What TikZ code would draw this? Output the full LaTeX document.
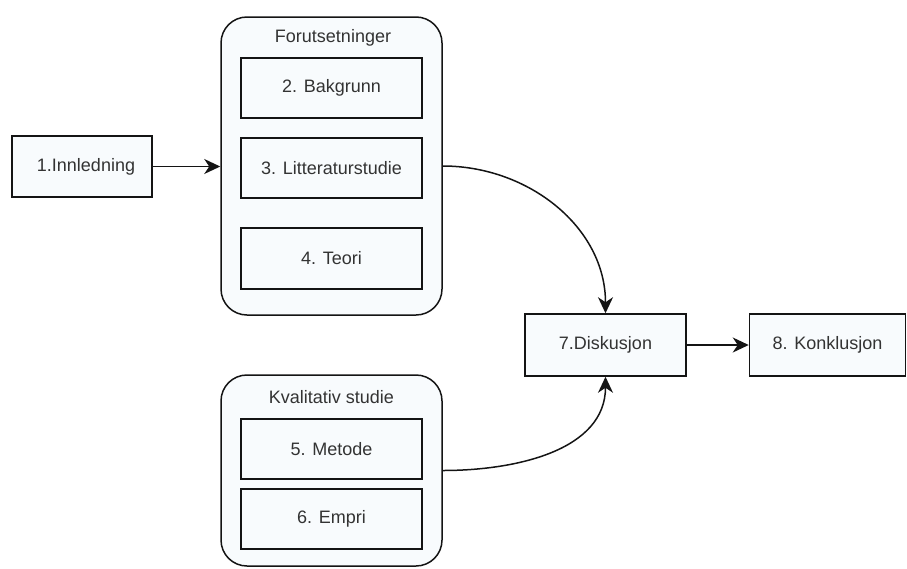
\documentclass[tikz,border=0pt]{standalone}
\usepackage{fontspec}
\setmainfont{Liberation Sans}
\usetikzlibrary{arrows.meta}
\definecolor{boxfill}{RGB}{248,251,253}
\definecolor{boxtext}{RGB}{51,51,51}
\definecolor{edge}{RGB}{20,20,20}
\tikzset{
  box/.style={draw=edge, line width=1.5pt, fill=boxfill, rectangle,
    text=boxtext, font=\fontsize{18}{21}\selectfont, inner sep=0pt},
  group/.style={box, rounded corners=26pt},
  grouptitle/.style={text=boxtext, font=\fontsize{18}{21}\selectfont, inner sep=0pt},
  flow/.style={draw=edge, line width=1.5pt,
    -{Stealth[length=16pt,width=15pt,inset=5pt]}}
}
\begin{document}
\begin{tikzpicture}[x=1pt,y=-1pt]
\useasboundingbox (0,0) rectangle (907,568);

% first stage
\node[box, minimum width=140, minimum height=61] (innl) at (82,166.5) {\hspace*{8pt}1.Innledning};

% group: Forutsetninger
\node[group, minimum width=221, minimum height=298] (forut) at (331.5,166) {};
\node[grouptitle] (forutT) at (333,38) {Forutsetninger};
\node[box, minimum width=181, minimum height=60] (bakg) at (331.5,88) {2. Bakgrunn};
\node[box, minimum width=181, minimum height=60] (litt) at (331.5,168) {3. Litteraturstudie};
\node[box, minimum width=181, minimum height=61] (teori) at (331.5,258.5) {4. Teori};

% group: Kvalitativ studie
\node[group, minimum width=221, minimum height=191] (kval) at (331.5,470.5) {};
\node[grouptitle] (kvalT) at (331.5,397) {Kvalitativ studie};
\node[box, minimum width=181, minimum height=60] (metode) at (331.5,449) {5. Metode};
\node[box, minimum width=181, minimum height=60] (empri) at (331.5,519) {6. Empri};

% closing stages
\node[box, minimum width=161, minimum height=62] (disk) at (605.5,345) {7.Diskusjon};
\node[box, minimum width=156, minimum height=62] (konk) at (827.5,345) {8. Konklusjon};

% connectors
\draw[flow] (innl.east) -- (innl.east -| forut.west);
\draw[flow] (forut.east) to[out=0,in=90] (disk.north);
\draw[flow] (kval.east) to[out=0,in=-90] (disk.south);
\draw[flow] (disk.east) -- (konk.west);
\end{tikzpicture}
\end{document}
